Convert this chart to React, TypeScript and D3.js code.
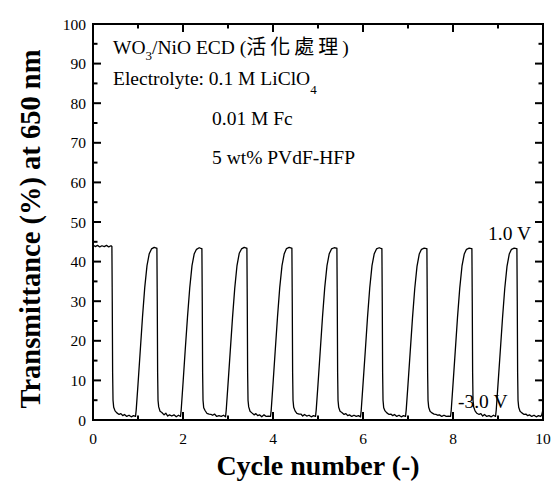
import React from 'react';
import * as d3 from 'd3';

// Tick values
const yTicks = [0, 10, 20, 30, 40, 50, 60, 70, 80, 90, 100];
const yMinorTicks = [5, 15, 25, 35, 45, 55, 65, 75, 85, 95];
const xTicks = [0, 2, 4, 6, 8, 10];
const xMinorTicks = [1, 3, 5, 7, 9];

// Transmittance trace (cycle number, %)
const initialHold: [number, number][] = [
  [0.0, 44.2], [0.05, 43.8], [0.1, 44.1], [0.15, 43.7], [0.2, 44.0], [0.25, 43.8],
  [0.3, 44.1], [0.35, 43.7], [0.4, 44.0],
];

const cycleTraces: [number, number][][] = [
  [[0.42, 43.8], [0.428, 30], [0.436, 12], [0.445, 5], [0.46, 3.2], [0.49, 2.3], [0.53, 1.8], [0.58, 1.4], [0.62, 1.6], [0.66, 1.1], [0.7, 1.4], [0.75, 0.9], [0.8, 1.2], [0.85, 0.8], [0.9, 1.1], [0.945, 0.9],
   [0.96, 2.5], [1.0, 9], [1.05, 17.5], [1.1, 26], [1.15, 33.5], [1.2, 39], [1.25, 42], [1.3, 43.2], [1.36, 43.6], [1.41, 43.4]],
  [[1.42, 43.4], [1.428, 30], [1.436, 12], [1.445, 5], [1.46, 3.3], [1.49, 2.2], [1.53, 1.9], [1.58, 1.3], [1.62, 1.7], [1.66, 1.0], [1.7, 1.3], [1.75, 1.0], [1.8, 1.3], [1.85, 0.8], [1.9, 1.2], [1.945, 0.9],
   [1.96, 2.6], [2.0, 9.2], [2.05, 17.8], [2.1, 26], [2.15, 33.4], [2.2, 39], [2.25, 42], [2.3, 43.1], [2.36, 43.5], [2.41, 43.3]],
  [[2.42, 43.3], [2.428, 30], [2.436, 12], [2.445, 5], [2.46, 3.1], [2.49, 2.4], [2.53, 1.7], [2.58, 1.5], [2.62, 1.4], [2.66, 1.2], [2.7, 1.5], [2.75, 0.9], [2.8, 1.1], [2.85, 0.9], [2.9, 1.2], [2.945, 0.8],
   [2.96, 2.4], [3.0, 9], [3.05, 17.4], [3.1, 25.8], [3.15, 33.3], [3.2, 39], [3.25, 42.1], [3.3, 43.2], [3.36, 43.6], [3.41, 43.4]],
  [[3.42, 43.4], [3.428, 30], [3.436, 12], [3.445, 5], [3.46, 3.3], [3.49, 2.2], [3.53, 1.8], [3.58, 1.3], [3.62, 1.6], [3.66, 1.1], [3.7, 1.3], [3.75, 0.8], [3.8, 1.3], [3.85, 0.9], [3.9, 1.0], [3.945, 0.9],
   [3.96, 2.5], [4.0, 9.1], [4.05, 17.6], [4.1, 26], [4.15, 33.5], [4.2, 39], [4.25, 42], [4.3, 43.3], [4.36, 43.6], [4.41, 43.4]],
  [[4.42, 43.4], [4.428, 30], [4.436, 12], [4.445, 5], [4.46, 3.2], [4.49, 2.3], [4.53, 1.7], [4.58, 1.5], [4.62, 1.5], [4.66, 1.0], [4.7, 1.4], [4.75, 1.0], [4.8, 1.2], [4.85, 0.8], [4.9, 1.1], [4.945, 0.9],
   [4.96, 2.5], [5.0, 9], [5.05, 17.5], [5.1, 26], [5.15, 33.5], [5.2, 39], [5.25, 42], [5.3, 43.2], [5.36, 43.5], [5.41, 43.4]],
  [[5.42, 43.4], [5.428, 30], [5.436, 12], [5.445, 5], [5.46, 3.2], [5.49, 2.2], [5.53, 1.9], [5.58, 1.4], [5.62, 1.6], [5.66, 1.1], [5.7, 1.3], [5.75, 0.9], [5.8, 1.2], [5.85, 0.9], [5.9, 1.1], [5.945, 0.8],
   [5.96, 2.4], [6.0, 9], [6.05, 17.3], [6.1, 25.9], [6.15, 33.4], [6.2, 39], [6.25, 42], [6.3, 43.2], [6.36, 43.5], [6.41, 43.3]],
  [[6.42, 43.3], [6.428, 30], [6.436, 12], [6.445, 5], [6.46, 3.1], [6.49, 2.3], [6.53, 1.8], [6.58, 1.4], [6.62, 1.5], [6.66, 1.1], [6.7, 1.4], [6.75, 0.9], [6.8, 1.2], [6.85, 0.8], [6.9, 1.1], [6.945, 0.9],
   [6.96, 2.5], [7.0, 9], [7.05, 17.4], [7.1, 25.8], [7.15, 33.2], [7.2, 38.8], [7.25, 41.9], [7.3, 43.1], [7.36, 43.4], [7.41, 43.3]],
  [[7.42, 43.3], [7.428, 30], [7.436, 12], [7.445, 5], [7.46, 3.2], [7.49, 2.2], [7.53, 1.8], [7.58, 1.5], [7.62, 1.4], [7.66, 1.2], [7.7, 1.3], [7.75, 0.9], [7.8, 1.2], [7.85, 0.9], [7.9, 1.0], [7.945, 0.9],
   [7.96, 2.4], [8.0, 9], [8.05, 17.4], [8.1, 25.9], [8.15, 33.3], [8.2, 38.9], [8.25, 41.9], [8.3, 43.1], [8.36, 43.4], [8.41, 43.3]],
  [[8.42, 43.3], [8.428, 30], [8.436, 12], [8.445, 5], [8.46, 3.3], [8.49, 2.3], [8.53, 1.7], [8.58, 1.4], [8.62, 1.6], [8.66, 1.0], [8.7, 1.4], [8.75, 0.9], [8.8, 1.1], [8.85, 0.8], [8.9, 1.2], [8.945, 0.9],
   [8.96, 2.4], [9.0, 9], [9.05, 17.3], [9.1, 25.7], [9.15, 33.2], [9.2, 38.8], [9.25, 41.9], [9.3, 43.1], [9.36, 43.4], [9.41, 43.3]],
  [[9.42, 43.3], [9.428, 30], [9.436, 12], [9.445, 5], [9.46, 3.2], [9.49, 2.2], [9.53, 1.8], [9.58, 1.4], [9.62, 1.5], [9.66, 1.1], [9.7, 1.3], [9.75, 0.9], [9.8, 1.2], [9.85, 0.8], [9.9, 1.1], [9.945, 0.9],
   [9.97, 1.2], [10.0, 2.6]],
];

const serif = '"Liberation Serif", "Times New Roman", serif';
const cjk = '"Noto Sans CJK TC", "Noto Sans CJK SC", sans-serif';

export default function App() {
  const width = 551;
  const height = 484;
  const x = d3.scaleLinear().domain([0, 10]).range([93, 543]);
  const y = d3.scaleLinear().domain([0, 100]).range([420, 24]);

  const trace = [...initialHold, ...cycleTraces.flat()];
  const line = d3.line<[number, number]>()
    .x(d => x(d[0]))
    .y(d => y(d[1]));

  const [x0, x1] = x.range();
  const [yb, yt] = y.range();
  const majorLen = 8;
  const minorLen = 4.5;

  return (
    <div style={{ position: 'fixed', left: 0, top: 0, width, height, background: '#fff' }}>
      <svg width={width} height={height} style={{ display: 'block' }}>
        {/* trace */}
        <path d={line(trace) || ''} fill="none" stroke="#000" strokeWidth={1.3} strokeLinejoin="round" />

        {/* frame */}
        <rect x={x0} y={yt} width={x1 - x0} height={yb - yt} fill="none" stroke="#000" strokeWidth={2} />

        {/* y ticks, left and right, inward */}
        {yTicks.map(v => (
          <g key={`yt-${v}`}>
            <line x1={x0} x2={x0 + majorLen} y1={y(v)} y2={y(v)} stroke="#000" strokeWidth={2} />
            <line x1={x1} x2={x1 - majorLen} y1={y(v)} y2={y(v)} stroke="#000" strokeWidth={2} />
            <text x={x0 - 7} y={y(v) + 5.5} textAnchor="end" fontFamily={serif} fontSize={15.5}>{v}</text>
          </g>
        ))}
        {yMinorTicks.map(v => (
          <g key={`ym-${v}`}>
            <line x1={x0} x2={x0 + minorLen} y1={y(v)} y2={y(v)} stroke="#000" strokeWidth={2} />
            <line x1={x1} x2={x1 - minorLen} y1={y(v)} y2={y(v)} stroke="#000" strokeWidth={2} />
          </g>
        ))}

        {/* x ticks, bottom and top, inward */}
        {xTicks.map(v => (
          <g key={`xt-${v}`}>
            <line x1={x(v)} x2={x(v)} y1={yb} y2={yb - majorLen} stroke="#000" strokeWidth={2} />
            <line x1={x(v)} x2={x(v)} y1={yt} y2={yt + majorLen} stroke="#000" strokeWidth={2} />
            <text x={x(v)} y={yb + 24} textAnchor="middle" fontFamily={serif} fontSize={15.5}>{v}</text>
          </g>
        ))}
        {xMinorTicks.map(v => (
          <g key={`xm-${v}`}>
            <line x1={x(v)} x2={x(v)} y1={yb} y2={yb - minorLen} stroke="#000" strokeWidth={2} />
            <line x1={x(v)} x2={x(v)} y1={yt} y2={yt + minorLen} stroke="#000" strokeWidth={2} />
          </g>
        ))}

        {/* axis titles */}
        <text x={(x0 + x1) / 2} y={475} textAnchor="middle" fontFamily={serif} fontWeight="bold" fontSize={28}>
          Cycle number (-)
        </text>
        <text
          transform={`translate(40, 229) rotate(-90)`}
          textAnchor="middle"
          fontFamily={serif}
          fontWeight="bold"
          fontSize={28.5}
        >
          Transmittance (%) at 650 nm
        </text>

        {/* annotations */}
        <g fontFamily={serif} fontSize={19.5}>
          <text x={113} y={54}>
            WO<tspan fontSize={13} dy={6}>3</tspan><tspan dy={-6}>/NiO ECD (</tspan>
            <tspan fontFamily={cjk} fontSize={20} letterSpacing={4}>活化處理</tspan>)
          </text>
          <text x={113} y={85}>
            Electrolyte: 0.1 M LiClO<tspan fontSize={13} dy={9}>4</tspan>
          </text>
          <text x={212} y={125}>0.01 M Fc</text>
          <text x={212} y={164}>5 wt% PVdF-HFP</text>
          <text x={488} y={240}>1.0 V</text>
          <text x={458} y={408}>-3.0 V</text>
        </g>
      </svg>
    </div>
  );
}
